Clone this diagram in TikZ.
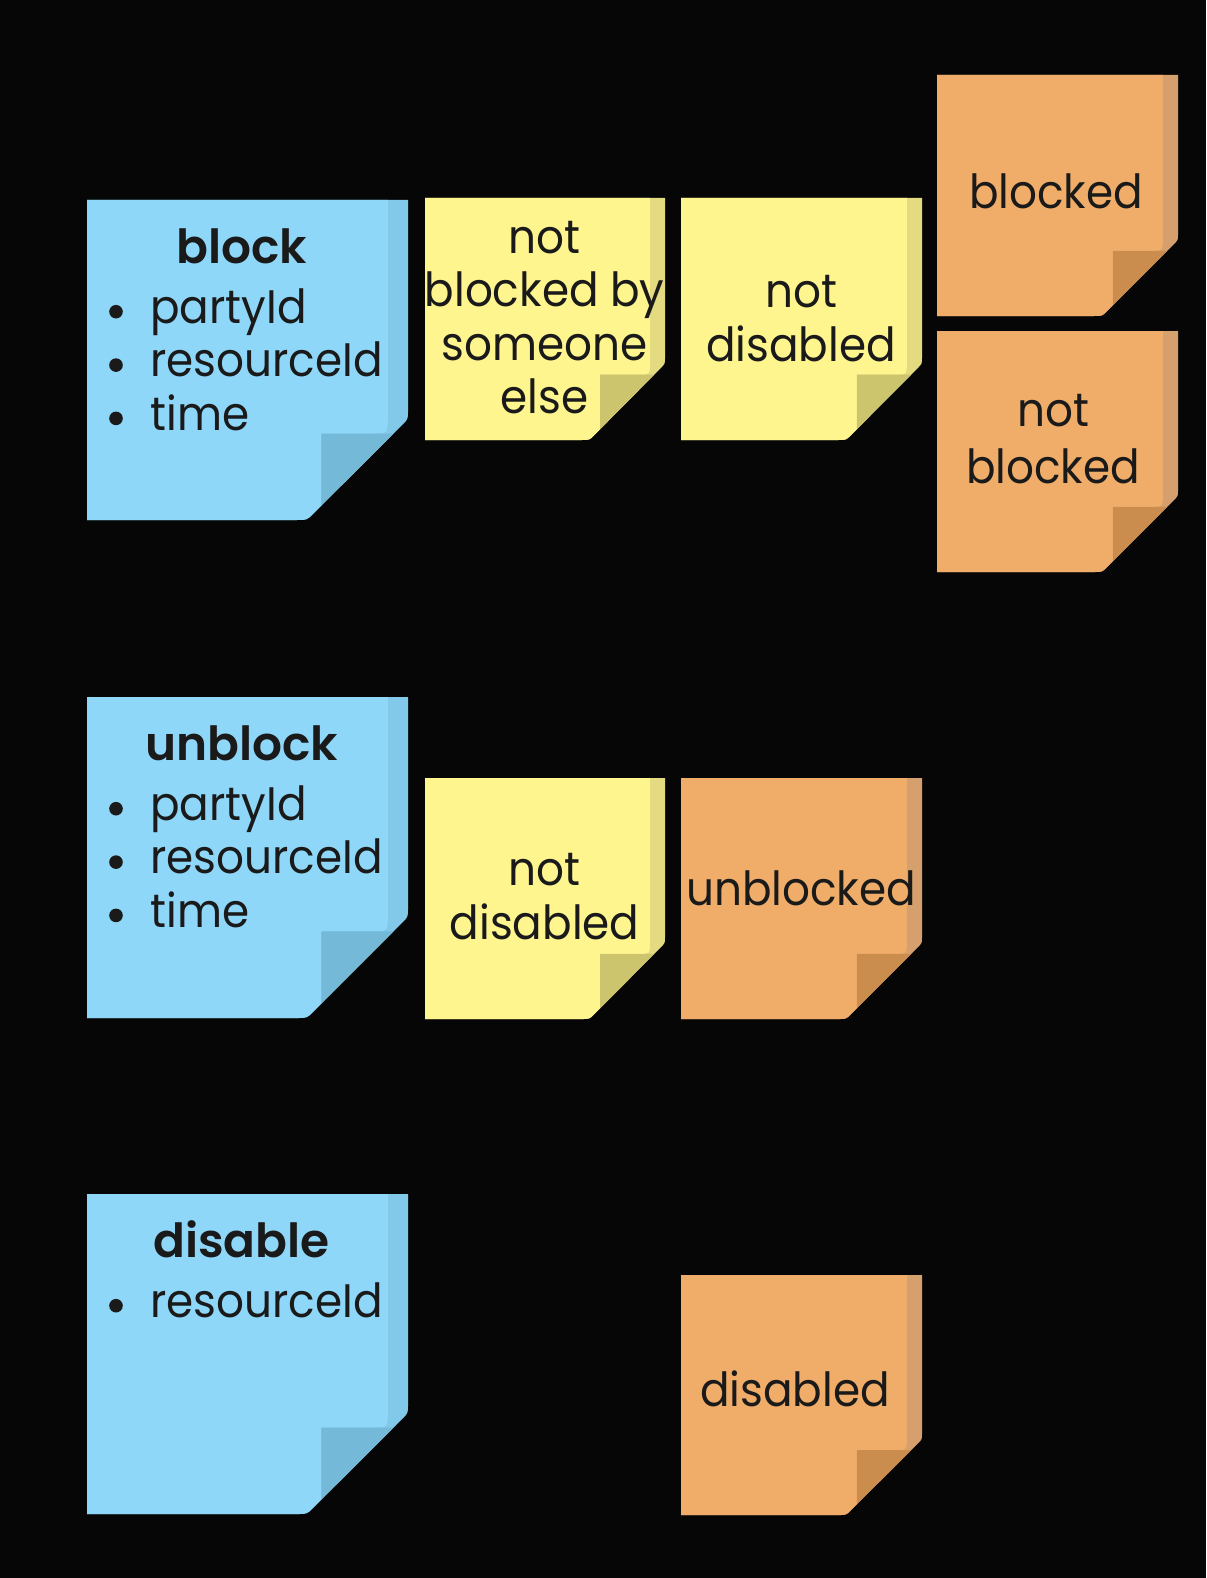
\documentclass[tikz,border=0pt]{standalone}
\usepackage{fontspec}
\setmainfont{Poppins}[FakeStretch=0.93,BoldFont={Poppins SemiBold},BoldFeatures={FakeStretch=1.0}]
\definecolor{bg}{HTML}{060606}
\definecolor{ink}{HTML}{1A1A1A}
\definecolor{blueM}{HTML}{8FD7F8}
\definecolor{blueS}{HTML}{82C8E8}
\definecolor{blueF}{HTML}{75B9D8}
\definecolor{yelM}{HTML}{FFF58F}
\definecolor{yelS}{HTML}{E4DA80}
\definecolor{yelF}{HTML}{CDC46E}
\definecolor{oraM}{HTML}{F0AD6A}
\definecolor{oraS}{HTML}{D5A06D}
\definecolor{oraF}{HTML}{CA8D4E}
\newcommand\stnote[7]{%
  \begin{scope}[shift={(#1,#2)},xscale=#3,yscale=#4]
    \fill[#6] (0,0) -- (1,0) -- (1,0.66) .. controls (1,0.685) .. (0.982,0.703)
      -- (0.703,0.982) .. controls (0.685,1) .. (0.65,1) -- (0,1) -- cycle;
    \fill[#5] (0,0) -- (0.937,0) -- (0.937,0.68) .. controls (0.937,0.73) .. (0.89,0.73)
      -- (0.73,0.73) -- (0.73,0.955) -- (0.703,0.982) .. controls (0.685,1) .. (0.65,1) -- (0,1) -- cycle;
    \fill[#7] (0.73,0.73) -- (0.955,0.73) -- (0.73,0.955) -- cycle;
  \end{scope}}
\tikzset{
  txt/.style={text=ink,font=\fontsize{23.5}{26.7}\selectfont,inner sep=0pt,anchor=base},
  ttl/.style={txt,font=\fontsize{23.5}{26.7}\selectfont\bfseries},
  itm/.style={txt,anchor=base west},
  bul/.style={circle,fill=ink,inner sep=0pt,minimum size=6.8pt}
}
\begin{document}
\begin{tikzpicture}[x=0.5pt,y=-0.5pt]
\fill[bg] (0,0) rectangle (1206,1578);
\useasboundingbox (0,0) rectangle (1206,1578);
% notes
\stnote{87}{200}{321}{320}{blueM}{blueS}{blueF}
\stnote{425}{198}{240}{242}{yelM}{yelS}{yelF}
\stnote{681}{198}{241}{242}{yelM}{yelS}{yelF}
\stnote{937}{75}{241}{241}{oraM}{oraS}{oraF}
\stnote{937}{331}{241}{241}{oraM}{oraS}{oraF}
\stnote{87}{697}{321}{321}{blueM}{blueS}{blueF}
\stnote{425}{778}{240}{241}{yelM}{yelS}{yelF}
\stnote{681}{778}{241}{241}{oraM}{oraS}{oraF}
\stnote{87}{1194}{321}{320}{blueM}{blueS}{blueF}
\stnote{681}{1275}{241}{240}{oraM}{oraS}{oraF}
% block
\node[ttl] (blockT) at (241.6,263.3) {block};
\node[bul] (blockB1) at (116,311.7) {};
\node[bul] (blockB2) at (116,365.1) {};
\node[bul] (blockB3) at (116,418.4) {};
\node[itm] (blockI1) at (150,323.3) {partyId};
\node[itm] (blockI2) at (150,376.7) {resourceId};
\node[itm] (blockI3) at (150,430) {time};
% unblock
\node[ttl] (unblockT) at (241.6,760.3) {unblock};
\node[bul] (unblockB1) at (116,808.7) {};
\node[bul] (unblockB2) at (116,862.1) {};
\node[bul] (unblockB3) at (116,915.4) {};
\node[itm] (unblockI1) at (150,820.3) {partyId};
\node[itm] (unblockI2) at (150,873.7) {resourceId};
\node[itm] (unblockI3) at (150,927) {time};
% disable
\node[ttl] (disableT) at (241.6,1257.3) {disable};
\node[bul] (disableB1) at (116,1305.7) {};
\node[itm] (disableI1) at (150,1317.3) {resourceId};
% yellow 1
\node[txt] (y1a) at (544.6,253.3) {not};
\node[txt] (y1b) at (544.6,306.6) {blocked by};
\node[txt] (y1c) at (544.6,360) {someone};
\node[txt] (y1d) at (544.6,413.3) {else};
% yellow 2
\node[txt] (y2a) at (801,307.5) {not};
\node[txt] (y2b) at (801,361) {disabled};
% orange
\node[txt] (o1) at (1056,208.3) {blocked};
\node[txt] (o2a) at (1053,426.7) {not};
\node[txt] (o2b) at (1053,483.3) {blocked};
\node[txt] (y3a) at (544.6,885.5) {not};
\node[txt] (y3b) at (544.6,939) {disabled};
\node[txt] (o3) at (801,905) {unblocked};
\node[txt] (o4) at (795,1406) {disabled};
\end{tikzpicture}
\end{document}
